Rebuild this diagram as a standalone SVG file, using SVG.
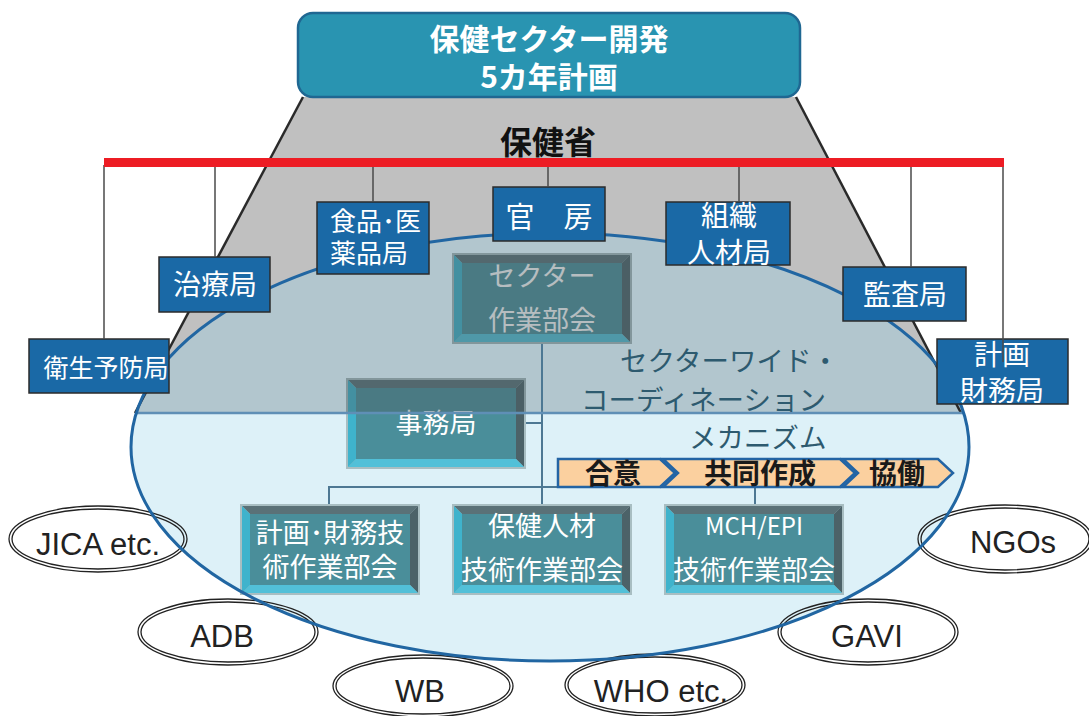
<svg xmlns="http://www.w3.org/2000/svg" xmlns:xlink="http://www.w3.org/1999/xlink" width="1089" height="716" viewBox="0 0 1089 716">
<style>
.ja{font-family:'Noto Sans CJK JP','Noto Sans CJK SC',sans-serif}
.lat{font-family:'Liberation Sans',Arial,sans-serif;font-size:31px;fill:#222;text-anchor:middle}
.mbox{fill:#1a69a6;stroke:#2b2b2b;stroke-width:1.5}
.mtxt{fill:#fff;text-anchor:middle}
.ttxt{fill:#fff;font-size:27px;text-anchor:middle}
.vline{stroke:#4a4a4a;stroke-width:1.5}
.conn{stroke:#4d7893;stroke-width:2;fill:none}
.donor{fill:none;stroke:#222;stroke-width:1.3}
.chev{fill:#fbd09f;stroke:#2364a4;stroke-width:2.5;stroke-linejoin:miter}
.ctxt{font-size:28px;font-weight:bold;fill:#1a1a1a;text-anchor:middle}
.mid{font-size:27.5px;fill:#2d5a6f}
</style>
<defs>
<clipPath id="ellClip"><ellipse cx="550" cy="447" rx="419" ry="214"/></clipPath>
<clipPath id="upperClip"><rect x="0" y="0" width="1089" height="413"/></clipPath>
<g id="bevel">
<rect x="0" y="0" width="180" height="91" fill="#a8bec2"/>
<polygon points="2,2 178,2 170,10 10,10" fill="#5a7177"/>
<polygon points="178,2 178,89 170,81 170,10" fill="#4c6268"/>
<polygon points="2,89 178,89 170,81 10,81" fill="#52c0d8"/>
<polygon points="2,2 10,10 10,81 2,89" fill="#3fb3cc"/>
<rect x="10" y="10" width="160" height="71" fill="#4a8e9a"/>
</g>
</defs>
<rect width="1089" height="716" fill="#fff"/>

<!-- ministry trapezoid -->
<polygon id="trapezoid" points="303,97 796,97 961,413 135,413" fill="#c0c0c0"/>

<!-- sector-wide ellipse fill -->
<ellipse cx="550" cy="447" rx="419" ry="214" fill="#ddf1f8"/>
<rect x="0" y="0" width="1089" height="413" fill="#b2c6ce" clip-path="url(#ellClip)"/>
<g stroke="#2a2a2a" stroke-width="2.5">
<line x1="303" y1="97" x2="135" y2="413"/>
<line x1="796" y1="97" x2="961" y2="413"/>
</g>

<!-- connectors -->
<g id="connectors">
<line class="conn" x1="542" y1="344" x2="542" y2="504"/>
<line class="conn" x1="525" y1="423" x2="542" y2="423"/>
<polyline class="conn" points="329,504 329,487 755,487 755,504"/>
</g>

<!-- working groups -->
<g id="sector-wg">
<use xlink:href="#bevel" x="452" y="253"/>
<text class="ja ttxt" x="542" y="286">セクター</text>
<text class="ja ttxt" x="542" y="330">作業部会</text>
</g>
<g id="secretariat">
<use xlink:href="#bevel" x="346" y="378"/>
<text class="ja ttxt" x="436" y="433">事務局</text>
</g>
<g id="plan-finance-wg">
<use xlink:href="#bevel" x="240" y="504"/>
<text class="ja ttxt" x="330" y="543">計画･財務技</text>
<text class="ja ttxt" x="330" y="577">術作業部会</text>
</g>
<g id="hr-wg">
<use xlink:href="#bevel" x="452" y="504"/>
<text class="ja ttxt" x="542" y="536">保健人材</text>
<text class="ja ttxt" x="542" y="580">技術作業部会</text>
</g>
<g id="mch-wg">
<use xlink:href="#bevel" x="664" y="504"/>
<text class="ja ttxt" x="754" y="535" style="font-size:24px">MCH/EPI</text>
<text class="ja ttxt" x="754" y="580">技術作業部会</text>
</g>

<!-- mute overlay for the upper (ministry) part -->
<g fill="#4b5d63" opacity="0.4">
<rect x="452" y="253" width="180" height="91"/>
<rect x="346" y="378" width="180" height="35"/>
</g>
<line x1="100" y1="413" x2="1000" y2="413" stroke="#5f8fb6" stroke-width="2.5" clip-path="url(#ellClip)"/>

<!-- donors -->
<g id="donor-jica"><ellipse class="donor" cx="98" cy="539" rx="89" ry="33"/><ellipse class="donor" cx="98" cy="539" rx="86" ry="30"/><text class="lat" x="98" y="555">JICA etc.</text></g>
<g id="donor-adb"><ellipse class="donor" cx="228" cy="632" rx="90" ry="33"/><ellipse class="donor" cx="228" cy="632" rx="87" ry="30"/><text class="lat" x="222" y="647">ADB</text></g>
<g id="donor-wb"><ellipse class="donor" cx="423" cy="686" rx="90" ry="31"/><ellipse class="donor" cx="423" cy="686" rx="87" ry="28"/><text class="lat" x="420" y="702">WB</text></g>
<g id="donor-who"><ellipse class="donor" cx="655" cy="685" rx="90" ry="31"/><ellipse class="donor" cx="655" cy="685" rx="87" ry="28"/><text class="lat" x="661" y="702">WHO etc.</text></g>
<g id="donor-gavi"><ellipse class="donor" cx="868" cy="632" rx="90" ry="33"/><ellipse class="donor" cx="868" cy="632" rx="87" ry="30"/><text class="lat" x="867" y="647">GAVI</text></g>
<g id="donor-ngos"><ellipse class="donor" cx="1005" cy="539" rx="87" ry="34"/><ellipse class="donor" cx="1005" cy="539" rx="84" ry="31"/><text class="lat" x="1013" y="553">NGOs</text></g>

<!-- ellipse outline -->
<ellipse cx="550" cy="447" rx="419" ry="214" fill="none" stroke="#2166a2" stroke-width="3"/>

<!-- mechanism label -->
<g id="mechanism">
<text class="ja mid" x="620" y="371">セクターワイド・</text>
<text class="ja mid" x="581" y="410">コーディネーション</text>
<text class="ja mid" x="689" y="448">メカニズム</text>
</g>

<!-- process chevrons -->
<g id="process">
<polygon class="chev" points="558,459 660,459 675,473 660,487 558,487"/>
<polygon class="chev" points="663,459 840,459 855,473 840,487 663,487 678,473"/>
<polygon class="chev" points="843,459 938,459 953,473 938,487 843,487 858,473"/>
<text class="ja ctxt" x="613" y="484">合意</text>
<text class="ja ctxt" x="760" y="484">共同作成</text>
<text class="ja ctxt" x="897" y="484">協働</text>
</g>

<!-- top plan box -->
<g id="plan-box">
<rect x="298" y="13" width="502" height="84" rx="15" fill="#2994b1" stroke="#1f6792" stroke-width="2.5"/>
<text class="ja" x="549" y="50" fill="#fff" font-size="30" font-weight="bold" text-anchor="middle">保健セクター開発</text>
<text class="ja" x="549" y="88" fill="#fff" font-size="30" font-weight="bold" text-anchor="middle">5カ年計画</text>
</g>

<text id="moh" class="ja" x="548" y="154" font-size="32" font-weight="bold" fill="#111" text-anchor="middle">保健省</text>

<!-- ministry departments -->
<g id="dept-hygiene"><rect class="mbox" x="29" y="339" width="140" height="54"/><text class="ja mtxt" x="106" y="377" font-size="25">衛生予防局</text></g>
<g id="dept-treatment"><rect class="mbox" x="159" y="257" width="111" height="55"/><text class="ja mtxt" x="215" y="295" font-size="28">治療局</text></g>
<g id="dept-food"><rect class="mbox" x="317" y="202" width="112" height="72"/><text class="ja" x="330" y="231" font-size="26" fill="#fff">食品･医</text><text class="ja" x="330" y="263" font-size="26" fill="#fff">薬品局</text></g>
<g id="dept-secretariat"><rect class="mbox" x="493" y="187" width="112" height="54"/><text class="ja mtxt" x="549" y="228" font-size="29">官　房</text></g>
<g id="dept-org"><rect class="mbox" x="666" y="202" width="124" height="63"/><text class="ja mtxt" x="729" y="226" font-size="28">組織</text><text class="ja mtxt" x="729" y="263" font-size="28">人材局</text></g>
<g id="dept-audit"><rect class="mbox" x="843" y="267" width="123" height="54"/><text class="ja mtxt" x="905" y="305" font-size="28">監査局</text></g>
<g id="dept-planfin"><rect class="mbox" x="937" y="339" width="131" height="65"/><text class="ja mtxt" x="1002" y="365" font-size="28">計画</text><text class="ja mtxt" x="1002" y="401" font-size="28">財務局</text></g>

<!-- org lines -->
<g id="org-lines">
<line class="vline" x1="104" y1="165" x2="104" y2="339"/>
<line class="vline" x1="215" y1="165" x2="215" y2="257"/>
<line class="vline" x1="373" y1="165" x2="373" y2="202"/>
<line class="vline" x1="548" y1="165" x2="548" y2="187"/>
<line class="vline" x1="739" y1="165" x2="739" y2="202"/>
<line class="vline" x1="911" y1="165" x2="911" y2="267"/>
<line class="vline" x1="1003" y1="165" x2="1003" y2="362"/>
<rect x="104" y="158" width="900" height="9" fill="#ed1c24"/>
</g>
</svg>
